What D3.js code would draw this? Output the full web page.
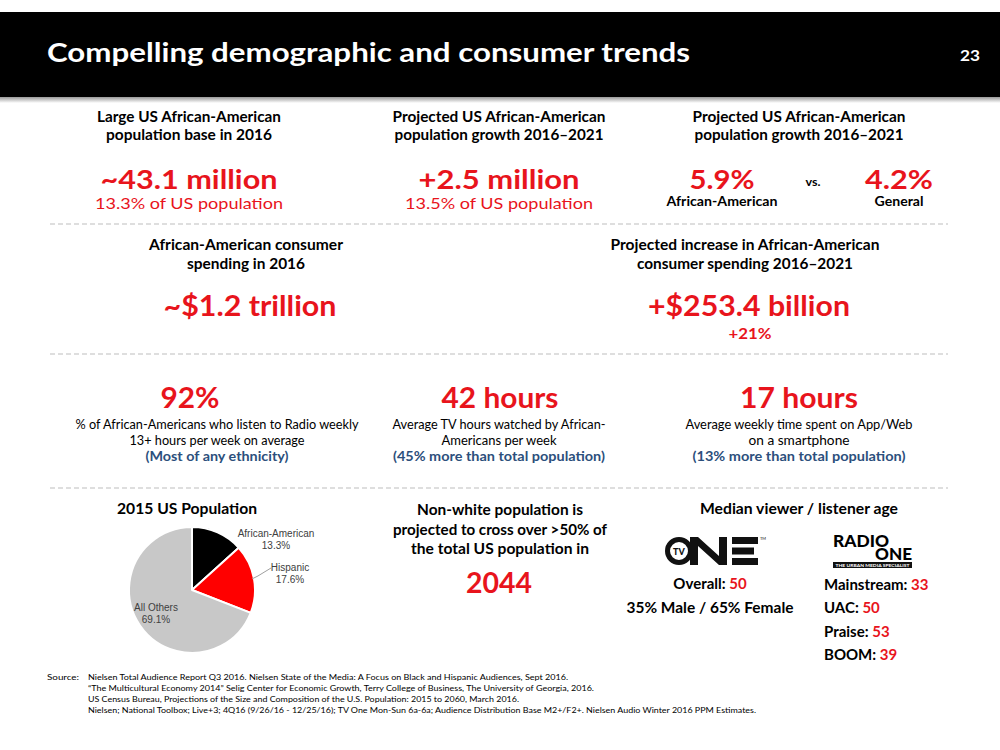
<!DOCTYPE html>
<html><head><meta charset="utf-8">
<script src="https://cdn.jsdelivr.net/npm/d3@7"></script>
<style>
html,body{margin:0;padding:0;background:#fff;}
svg{display:block;font-family:Lato,"Open Sans",sans-serif;}
</style></head>
<body>
<svg id="chart" width="1000" height="750"></svg>
<script>
// ---------- data ----------
const pieCategories = ["African-American", "Hispanic", "All Others"];
const pieValues = [13.3, 17.6, 69.1];
const pieTitle = "2015 US Population";

const slideTitle = "Compelling demographic and consumer trends";
const pageNumber = "23";

const row1Headings = [
  ["Large US African-American", "population base in 2016"],
  ["Projected US African-American", "population growth 2016\u20132021"],
  ["Projected US African-American", "population growth 2016\u20132021"]
];
const row1Values = ["~43.1 million", "+2.5 million"];
const row1Subs = ["13.3% of US population", "13.5% of US population"];
const growthValues = ["5.9%", "4.2%"];
const growthLabels = ["African-American", "General"];

const row2Headings = [
  ["African-American consumer", "spending in 2016"],
  ["Projected increase in African-American", "consumer spending 2016\u20132021"]
];
const row2Values = ["~$1.2 trillion", "+$253.4 billion"];
const row2Sub = "+21%";

const row3Values = ["92%", "42 hours", "17 hours"];
const row3Lines = [
  ["% of African-Americans who listen to Radio weekly", "13+ hours per week on average"],
  ["Average TV hours watched by African-", "Americans per week"],
  ["Average weekly time spent on App/Web", "on a smartphone"]
];
const row3Notes = ["(Most of any ethnicity)", "(45% more than total population)", "(13% more than total population)"];

const nonWhiteLines = ["Non-white population is", "projected to cross over >50% of", "the total US population in"];
const nonWhiteYear = "2044";

const medianTitle = "Median viewer / listener age";
const tvOneLabels = ["Overall: ", "35% Male / 65% Female"];
const tvOneValues = ["50", ""];
const radioLabels = ["Mainstream: ", "UAC: ", "Praise: ", "BOOM: "];
const radioValues = ["33", "50", "53", "39"];

const sourceLabel = "Source:";
const sourceLines = [
  "Nielsen Total Audience Report Q3 2016. Nielsen State of the Media: A Focus on Black and Hispanic Audiences, Sept 2016.",
  "\u201CThe Multicultural Economy 2014\u201D Selig Center for Economic Growth, Terry College of Business, The University of Georgia, 2016.",
  "US Census Bureau, Projections of the Size and Composition of the U.S. Population: 2015 to 2060, March 2016.",
  "Nielsen; National Toolbox; Live+3; 4Q16 (9/26/16 - 12/25/16); TV One Mon-Sun 6a-6a; Audience Distribution Base M2+/F2+. Nielsen Audio Winter 2016 PPM Estimates."
];

// ---------- styles ----------
const RED = "#e8141c";
const BLUE = "#2c4f7c";
const svg = d3.select("#chart");

function txt(x, y, str, o = {}) {
  const t = svg.append("text")
    .attr("x", x).attr("y", y)
    .attr("text-anchor", o.anchor || "middle")
    .attr("font-size", o.size || 14)
    .attr("font-weight", o.weight || 400)
    .attr("fill", o.fill || "#000")
    .attr("font-family", o.family || null)
    .text(str);
  if (o.width) t.attr("textLength", o.width).attr("lengthAdjust", "spacingAndGlyphs");
  return t;
}
function mixed(x, y, parts, o = {}) {
  const t = svg.append("text")
    .attr("x", x).attr("y", y)
    .attr("text-anchor", o.anchor || "middle")
    .attr("font-size", o.size || 14)
    .attr("font-weight", o.weight || 400);
  parts.forEach(p => t.append("tspan").attr("fill", p[1]).text(p[0]));
  return t;
}

// ---------- header ----------
const defs = svg.append("defs");
const sh = defs.append("linearGradient").attr("id", "shadow").attr("x1", 0).attr("y1", 0).attr("x2", 0).attr("y2", 1);
sh.append("stop").attr("offset", "0%").attr("stop-color", "#888");
sh.append("stop").attr("offset", "100%").attr("stop-color", "#fff");
svg.append("rect").attr("x", 0).attr("y", 96).attr("width", 1000).attr("height", 7).attr("fill", "url(#shadow)");
svg.append("rect").attr("x", 0).attr("y", 12).attr("width", 1000).attr("height", 85).attr("fill", "#000");
txt(47, 62, slideTitle, {anchor: "start", size: 26, weight: 700, fill: "#fff", width: 643});
txt(980, 61, pageNumber, {anchor: "end", size: 15, weight: 700, fill: "#fff", width: 20});

// ---------- dashed separators ----------
[224, 354, 488].forEach(y => {
  svg.append("line").attr("x1", 50).attr("x2", 948).attr("y1", y).attr("y2", y)
    .attr("stroke", "#bdbdbd").attr("stroke-width", 1).attr("stroke-dasharray", "5,3");
});

// ---------- row 1 ----------
const r1cx = [189, 499, 799];
const r1hw = [[184, 166], [213, 209], [213, 209]];
row1Headings.forEach((h, i) => {
  h.forEach((line, j) => txt(r1cx[i], 122 + j * 18, line, {size: 14.5, weight: 700, width: r1hw[i][j]}));
});
const r1vw = [177, 161];
const r1sw = [188, 188];
row1Values.forEach((v, i) => {
  txt(r1cx[i], 189, v, {size: 27, weight: 700, fill: RED, width: r1vw[i]});
  txt(r1cx[i], 209, row1Subs[i], {size: 16, weight: 400, fill: RED, width: r1sw[i]});
});
const gx = [722, 899];
const gw = [65, 68];
const glw = [111, 49];
growthValues.forEach((v, i) => {
  txt(gx[i], 189, v, {size: 27, weight: 700, fill: RED, width: gw[i]});
  txt(gx[i], 206, growthLabels[i], {size: 12.5, weight: 700, width: glw[i]});
});
txt(813, 186, "vs.", {size: 12, weight: 700, width: 15});

// ---------- row 2 ----------
const r2cx = [246, 745];
const r2hw = [[194, 118], [269, 216]];
row2Headings.forEach((h, i) => {
  h.forEach((line, j) => txt(r2cx[i], 250 + j * 19, line, {size: 14.5, weight: 700, width: r2hw[i][j]}));
});
const r2vx = [250, 749];
const r2vw = [173, 202];
row2Values.forEach((v, i) => txt(r2vx[i], 316, v, {size: 28, weight: 700, fill: RED, width: r2vw[i]}));
txt(750, 339, row2Sub, {size: 15, weight: 700, fill: RED, width: 43});

// ---------- row 3 ----------
const r3vx = [190, 500, 799];
const r3vw = [59, 117, 118];
const r3tx = [217, 499, 799];
const r3lw = [[283, 175], [213, 115], [227, 101]];
const r3nw = [143, 212, 213];
row3Values.forEach((v, i) => {
  txt(r3vx[i], 408, v, {size: 28, weight: 700, fill: RED, width: r3vw[i]});
  row3Lines[i].forEach((line, j) => txt(r3tx[i], 429 + j * 16, line, {size: 12.5, weight: 400, width: r3lw[i][j]}));
  txt(r3tx[i], 461, row3Notes[i], {size: 12.5, weight: 700, fill: BLUE, width: r3nw[i]});
});

// ---------- row 4: pie ----------
txt(187, 514, pieTitle, {size: 14.5, weight: 700, width: 140});
const pieColors = d3.scaleOrdinal().domain(pieCategories).range(["#000000", "#ff0000", "#c8c8c8"]);
const pieData = pieCategories.map((c, i) => ({cat: c, val: pieValues[i]}));
const pie = d3.pie().value(d => d.val).sort(null);
const radius = 63;
const arc = d3.arc().innerRadius(0).outerRadius(radius);
const pg = svg.append("g").attr("transform", "translate(192,590)");
pg.selectAll("path").data(pie(pieData)).join("path")
  .attr("d", arc)
  .attr("fill", d => pieColors(d.data.cat))
  .attr("stroke", "#fff").attr("stroke-width", 2).attr("stroke-linejoin", "round");

// pie labels
const pieArcs = pie(pieData);
const labelFont = "'Liberation Sans', Arial, sans-serif";
const labelPos = [
  [276, 537],
  [290, 571],
  [156, 611]
];
pieArcs.forEach((a, i) => {
  const [lx, ly] = labelPos[i];
  txt(lx, ly, a.data.cat, {size: 10, fill: "#404040", family: labelFont});
  txt(lx, ly + 12, d3.format(".1f")(a.data.val) + "%", {size: 10, fill: "#404040", family: labelFont});
});
// leader line for Hispanic
{
  const a = pieArcs[1];
  const mid = (a.startAngle + a.endAngle) / 2;
  const x0 = 192 + Math.sin(mid) * (radius - 2), y0 = 590 - Math.cos(mid) * (radius - 2);
  svg.append("path").attr("d", `M${x0},${y0} L${x0 + 6},${y0 - 3} L${271},${568}`)
    .attr("fill", "none").attr("stroke", "#a0a0a0").attr("stroke-width", 1);
}

// ---------- row 4: non-white ----------
const nwW = [166, 214, 178];
nonWhiteLines.forEach((l, i) => txt(500, 515 + i * 19.5, l, {size: 15, weight: 700, width: nwW[i]}));
txt(499, 593, nonWhiteYear, {size: 28, weight: 700, fill: RED, width: 66});

// ---------- row 4: median ages ----------
txt(799, 514, medianTitle, {size: 14.5, weight: 700, width: 198});

// TV ONE logo
const lg = svg.append("g");
lg.append("circle").attr("cx", 679).attr("cy", 551).attr("r", 11.5).attr("fill", "none").attr("stroke", "#111").attr("stroke-width", 5);
lg.append("text").attr("x", 679).attr("y", 554.5).attr("text-anchor", "middle").attr("font-size", 9).attr("font-weight", 900).attr("fill", "#111").text("TV");
lg.append("path").attr("d", "M690,537 L698,537 L719,556 L719,537 L727,537 L727,565 L719,565 L698,546 L698,565 L690,565 Z").attr("fill", "#111");
[[537, 26], [547.5, 22], [558, 26]].forEach(([y, w]) => lg.append("rect").attr("x", 732).attr("y", y).attr("width", w).attr("height", 7).attr("fill", "#111"));
lg.append("text").attr("x", 760).attr("y", 540).attr("font-size", 4).attr("fill", "#111").text("TM");

// RADIO ONE logo
txt(833, 547, "RADIO", {anchor: "start", size: 16, weight: 900, width: 56});
txt(875, 560, "ONE", {anchor: "start", size: 16, weight: 900, width: 37});
svg.append("rect").attr("x", 833).attr("y", 562).attr("width", 79).attr("height", 6).attr("fill", "#111");
txt(872.5, 566.6, "THE URBAN MEDIA SPECIALIST", {size: 4.5, weight: 700, fill: "#fff", width: 74});

mixed(710, 589, [[tvOneLabels[0], "#000"], [tvOneValues[0], RED]], {size: 15, weight: 700});
txt(710, 613, tvOneLabels[1], {size: 15, weight: 700, width: 167});
radioLabels.forEach((l, i) => {
  mixed(824, 590 + i * 23.3, [[l, "#000"], [radioValues[i], RED]], {anchor: "start", size: 15, weight: 700});
});

// ---------- sources ----------
txt(47, 680, sourceLabel, {anchor: "start", size: 8, width: 32});
const srcW = [480, 506, 431, 668];
sourceLines.forEach((l, i) => txt(88, 680 + i * 11, l, {anchor: "start", size: 8, width: srcW[i]}));
</script>
</body></html>
